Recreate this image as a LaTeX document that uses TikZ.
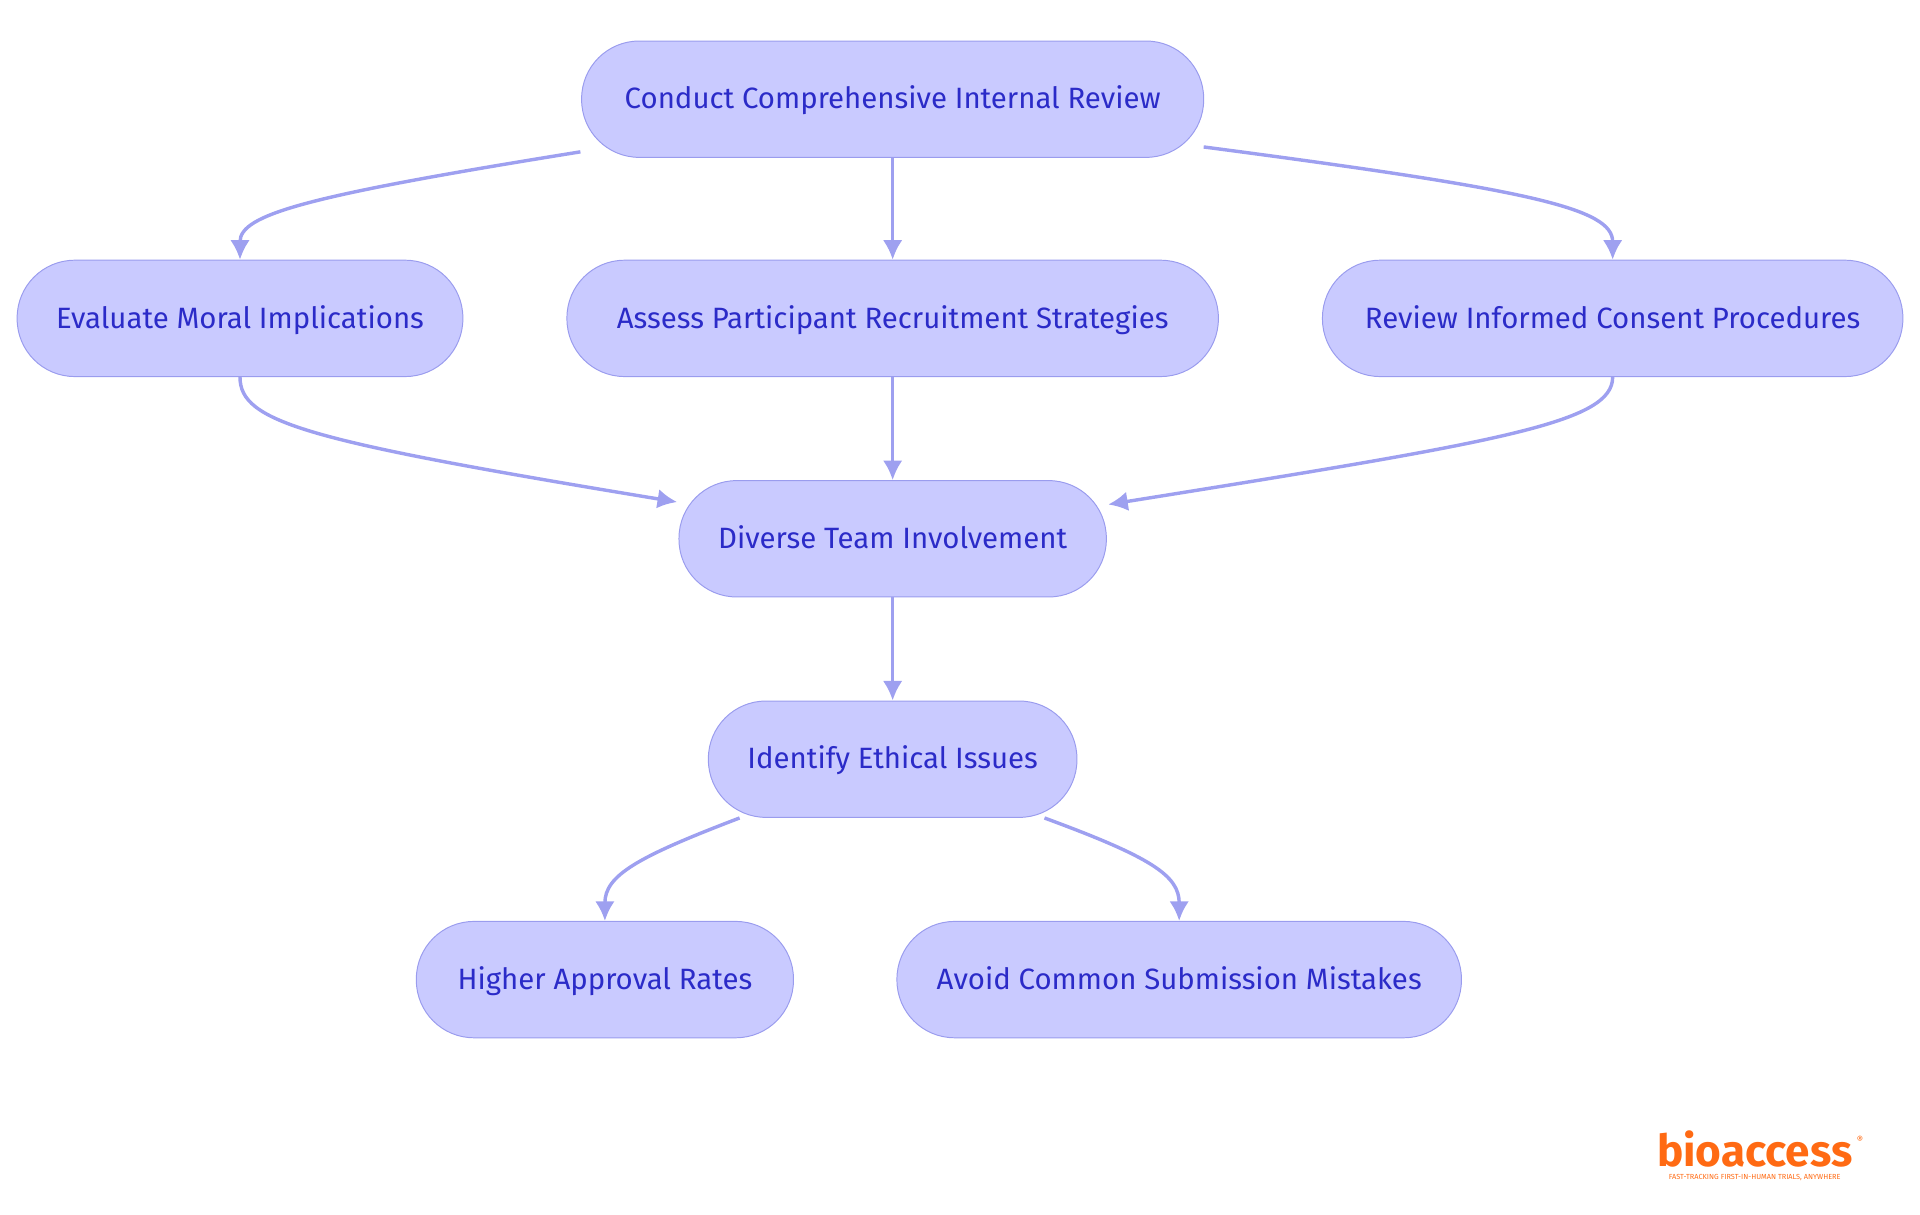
\documentclass[tikz,border=0pt]{standalone}
\usepackage{fontspec}
\setmainfont{Fira Sans}
\usetikzlibrary{arrows.meta}
\definecolor{nfill}{HTML}{C9CAFF}
\definecolor{nline}{HTML}{9A9CEE}
\definecolor{ntext}{HTML}{2B2BC8}
\definecolor{eline}{HTML}{9EA0F0}
\definecolor{logo}{HTML}{FF6A13}
\begin{document}
\begin{tikzpicture}[x=0.5pt,y=-0.5pt,
 box/.style={draw=nline,fill=nfill,rounded corners=23.5pt,minimum height=47.5pt,text=ntext,text height=9.5pt,text depth=1.5pt,font=\fontsize{12}{14}\selectfont},
 e/.style={draw=eline,line width=1.4pt,-{Latex[length=8pt,width=8pt]}}]
\useasboundingbox (0,0) rectangle (1568,992);
\node[box,minimum width=254pt] (A) at (729,81) {Conduct Comprehensive Internal Review};
\node[box,minimum width=182pt] (B) at (196,260) {Evaluate Moral Implications};
\node[box,minimum width=266pt] (C) at (729,260) {Assess Participant Recruitment Strategies};
\node[box,minimum width=237pt] (D) at (1317,260) {Review Informed Consent Procedures};
\node[box,minimum width=174.5pt] (E) at (729,440) {Diverse Team Involvement};
\node[box,minimum width=150.5pt] (F) at (729,620) {Identify Ethical Issues};
\node[box,minimum width=154pt] (G) at (494,800) {Higher Approval Rates};
\node[box,minimum width=230.5pt] (H) at (963,800) {Avoid Common Submission Mistakes};
\coordinate (a1) at (474,124); \coordinate (a2) at (983,120);
\coordinate (e1) at (553,410); \coordinate (e2) at (905,412);
\coordinate (f1) at (604,668); \coordinate (f2) at (853,668);
\draw[e] (a1) .. controls (250,160) and (196,175) .. (B.north);
\draw[e] (A) -- (C);
\draw[e] (a2) .. controls (1250,155) and (1317,170) .. (D.north);
\draw[e] (B.south) .. controls (196,345) and (250,360) .. (e1);
\draw[e] (C) -- (E);
\draw[e] (D.south) .. controls (1317,345) and (1230,360) .. (e2);
\draw[e] (E) -- (F);
\draw[e] (f1) .. controls (520,700) and (494,715) .. (G.north);
\draw[e] (f2) .. controls (940,700) and (963,715) .. (H.north);
\node[text=logo,font=\fontsize{18}{20}\selectfont\bfseries,inner sep=0] (L) at (1433,938) {bioaccess};
\node[text=logo,font=\fontsize{3}{3.5}\selectfont,anchor=north,inner sep=0] (L2) at (1433,959) {FAST-TRACKING FIRST-IN-HUMAN TRIALS, ANYWHERE};
\node[text=logo,font=\fontsize{4}{4}\selectfont,inner sep=0] (L3) at (1519,931) {®};
\end{tikzpicture}
\end{document}
